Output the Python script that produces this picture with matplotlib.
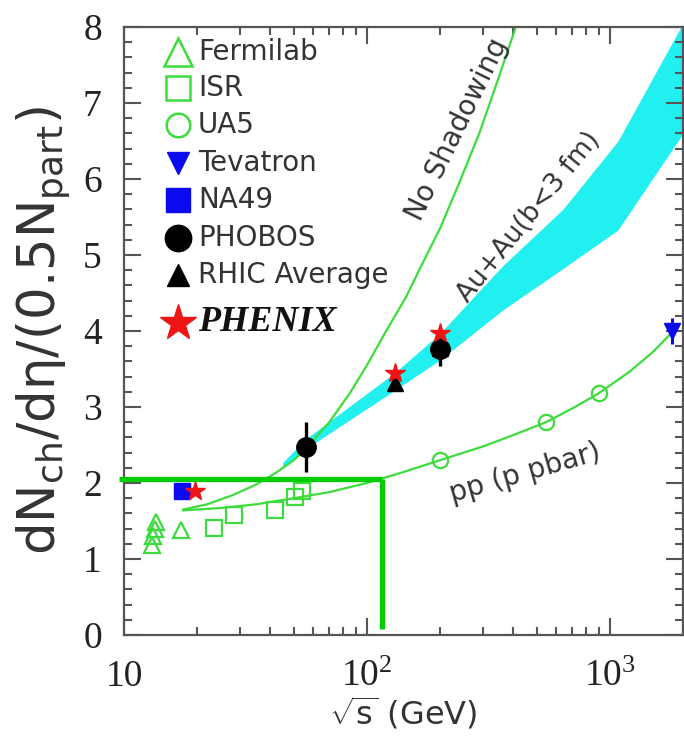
import matplotlib
matplotlib.use("Agg")
import matplotlib.pyplot as plt
from matplotlib.ticker import FixedLocator, NullFormatter, MultipleLocator

plt.rcParams['mathtext.fontset'] = 'custom'
plt.rcParams['mathtext.rm'] = 'Liberation Serif'
plt.rcParams['mathtext.sf'] = 'DejaVu Sans'
plt.rcParams['mathtext.it'] = 'DejaVu Sans:italic'

# ---- data -------------------------------------------------------------
fermilab_x = [13.0, 13.2, 13.4, 13.5, 17.2]
fermilab_y = [1.18, 1.30, 1.40, 1.49, 1.38]

isr_x = [23.5, 28.5, 41.7, 50.6, 54.0]
isr_y = [1.41, 1.58, 1.64, 1.82, 1.90]

ua5_x = [200, 546, 900]
ua5_y = [2.30, 2.80, 3.18]

tevatron_x = [1800]
tevatron_y = [4.0]
tevatron_err = [0.17]

na49_x = [17.3]
na49_y = [1.90]

phobos_x = [56, 200]
phobos_y = [2.47, 3.76]
phobos_err = [0.33, 0.22]

rhic_avg_x = [130, 200]
rhic_avg_y = [3.32, 3.78]

phenix_x = [19.6, 130, 200]
phenix_y = [1.90, 3.45, 3.97]

no_shadow_x = [17.5, 22, 28, 35, 42, 50, 56, 70, 85, 100, 120, 145, 170,
               200, 240, 290, 350, 420]
no_shadow_y = [1.65, 1.72, 1.84, 1.98, 2.13, 2.30, 2.45, 2.80, 3.18, 3.55,
               4.00, 4.45, 4.90, 5.35, 5.95, 6.60, 7.35, 8.10]

pp_x = [17.5, 25, 35, 50, 70, 100, 140, 200, 300, 400, 546, 700, 900,
        1200, 1500, 1800]
pp_y = [1.64, 1.67, 1.72, 1.80, 1.88, 2.00, 2.14, 2.30, 2.48, 2.63, 2.80,
        2.98, 3.18, 3.46, 3.72, 3.98]

band_x = [45, 56, 130, 200, 360, 640, 1080, 2000]
band_lo = [2.20, 2.45, 3.22, 3.62, 4.27, 4.82, 5.33, 6.60]
band_hi = [2.27, 2.58, 3.45, 3.97, 4.85, 5.60, 6.50, 8.05]

guide_x = [9.5, 115]
guide_y = [2.05, 0.08]

x_ticks = [10, 100, 1000]
x_tick_labels = ['10', r'$\mathregular{10^{2}}$', r'$\mathregular{10^{3}}$']
y_ticks = [0, 1, 2, 3, 4, 5, 6, 7, 8]

legend_labels = ['Fermilab', 'ISR', 'UA5', 'Tevatron', 'NA49', 'PHOBOS',
                 'RHIC Average', 'PHENIX']

# ---- style ------------------------------------------------------------
GREEN = '#3ddc3d'
GUIDE = '#00cc00'
CYAN = '#22f0f0'
BLUE = '#0a0aee'
RED = '#ee1515'
TXT = '#333333'
SANS = 'DejaVu Sans'
SERIF = 'Liberation Serif'

fig = plt.figure(figsize=(6.84, 7.37), dpi=100)
ax = fig.add_axes([0.1813, 0.1384, 0.8172, 0.825])
ax.set_xscale('log')
ax.set_xlim(10, 2000)
ax.set_ylim(0, 8)

# theory band and curves
ax.fill_between(band_x, band_lo, band_hi, color=CYAN, lw=0, zorder=1)
ax.plot(no_shadow_x, no_shadow_y, color=GREEN, lw=1.6, zorder=2)
ax.plot(pp_x, pp_y, color=GREEN, lw=1.6, zorder=2)

# open green data
ax.plot(fermilab_x, fermilab_y, ls='none', marker='^', ms=11, mfc='none',
        mec=GREEN, mew=1.6, zorder=3)
ax.plot(isr_x, isr_y, ls='none', marker='s', ms=11, mfc='none',
        mec=GREEN, mew=1.6, zorder=3)
ax.plot(ua5_x, ua5_y, ls='none', marker='o', ms=11, mfc='none',
        mec=GREEN, mew=1.6, zorder=3)

# filled data
ax.errorbar(tevatron_x, tevatron_y, yerr=tevatron_err, fmt='v', ms=11,
            color=BLUE, elinewidth=2.2, capsize=0, zorder=4, clip_on=False)
ax.plot(na49_x, na49_y, ls='none', marker='s', ms=12, color=BLUE, zorder=4)
ax.plot(rhic_avg_x, rhic_avg_y, ls='none', marker='^', ms=11, color='black',
        zorder=4)
ax.errorbar(phobos_x, phobos_y, yerr=phobos_err, fmt='o', ms=14,
            color='black', elinewidth=2.4, capsize=0, zorder=5)
ax.plot(phenix_x, phenix_y, ls='none', marker='*', ms=15, color=RED,
        mec=RED, zorder=6)

# thick guide lines
ax.plot([guide_x[0], guide_x[1]], [guide_y[0], guide_y[0]], color=GUIDE,
        lw=3.8, solid_capstyle='butt', clip_on=False, zorder=7)
ax.plot([guide_x[1], guide_x[1]], [guide_y[0], guide_y[1]], color=GUIDE,
        lw=3.8, solid_capstyle='butt', zorder=7)

# curve annotations
ax.text(236, 6.65, 'No Shadowing', rotation=64, rotation_mode='anchor',
        ha='center', va='center', fontsize=20, family=SANS, color=TXT)
ax.text(465, 5.50, 'Au+Au(b<3 fm)', rotation=51, rotation_mode='anchor',
        ha='center', va='center', fontsize=19, family=SANS, color=TXT)
ax.text(447, 2.13, 'pp (p pbar)', rotation=16, rotation_mode='anchor',
        ha='center', va='center', fontsize=20, family=SANS, color=TXT)

# legend drawn in axes coordinates
leg_y_px = [52, 88, 125, 163, 200, 238, 275, 323]
leg_y = [(635 - v) / 608 for v in leg_y_px]
mx, tx = 0.0966, 0.1324
styles = [
    dict(marker='^', ms=20, mfc='none', mec=GREEN, mew=1.8),
    dict(marker='s', ms=17, mfc='none', mec=GREEN, mew=1.8),
    dict(marker='o', ms=17, mfc='none', mec=GREEN, mew=1.8),
    dict(marker='v', ms=16, color=BLUE),
    dict(marker='s', ms=17, color=BLUE),
    dict(marker='o', ms=19, color='black'),
    dict(marker='^', ms=16, color='black'),
    dict(marker='*', ms=27, color=RED),
]
for label, yy, st in zip(legend_labels, leg_y, styles):
    ax.plot([mx], [yy], ls='none', transform=ax.transAxes, clip_on=False,
            zorder=8, **st)
    if label == 'PHENIX':
        ax.text(tx, yy, label, transform=ax.transAxes, va='center',
                ha='left', fontsize=26, family=SERIF, weight='bold',
                style='italic', color='#111111')
    else:
        ax.text(tx, yy, label, transform=ax.transAxes, va='center',
                ha='left', fontsize=20, family=SANS, color=TXT)

# axes, ticks, labels
for sp in ax.spines.values():
    sp.set_color('#555555')
    sp.set_linewidth(1.6)

ax.xaxis.set_major_locator(FixedLocator(x_ticks))
ax.set_xticklabels(x_tick_labels)
ax.xaxis.set_minor_formatter(NullFormatter())
ax.yaxis.set_major_locator(FixedLocator(y_ticks))
ax.yaxis.set_minor_locator(MultipleLocator(0.2))

ax.tick_params(which='both', direction='in', top=True, right=True,
               color='#555555', width=1.5)
ax.tick_params(which='major', length=12)
ax.tick_params(which='minor', length=6)
ax.tick_params(axis='y', which='major', labelsize=27, pad=16,
               labelfontfamily=SERIF, labelcolor='#222222')
ax.tick_params(axis='x', which='major', labelsize=27, pad=18,
               labelfontfamily=SERIF, labelcolor='#222222')

ax.set_ylabel(r'$\mathsf{dN_{ch}/d\eta/(0.5N_{part})}$', fontsize=37,
              color=TXT, labelpad=8)
ax.set_xlabel(r'$\mathsf{\sqrt{s}}$ (GeV)', fontsize=23, family=SANS,
              color=TXT, labelpad=0)

fig.savefig('out.png', dpi=100)
